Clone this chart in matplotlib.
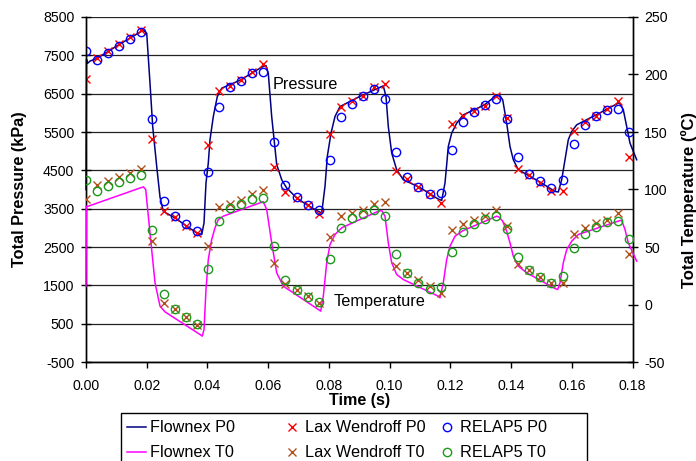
import numpy as np
import matplotlib
matplotlib.use("Agg")
import matplotlib.pyplot as plt
from matplotlib.lines import Line2D
from matplotlib.patches import Rectangle

plt.rcParams['font.family'] = ['Liberation Sans', 'DejaVu Sans']

# ---- Flownex lines ----
flownex_p_t = [0.0, 0.00016, 0.00049, 0.00132, 0.00362, 0.00725, 0.01087, 0.01449, 0.01812, 0.01910,
               0.02000, 0.02108, 0.02197, 0.02329, 0.02438, 0.02546, 0.02931, 0.03294, 0.03646, 0.03811,
               0.03887, 0.03952, 0.04028, 0.04084, 0.04193, 0.04325, 0.04470, 0.05072, 0.05820, 0.05929,
               0.06004, 0.06116, 0.06281, 0.06446, 0.06610, 0.06940, 0.07269, 0.07651, 0.07763, 0.07872,
               0.07948, 0.08070, 0.08201, 0.08366, 0.09025, 0.09739, 0.09792, 0.09881, 0.09957, 0.10069,
               0.10233, 0.10451, 0.11001, 0.11604, 0.11716, 0.11824, 0.11880, 0.11933, 0.12045, 0.12210,
               0.12427, 0.13109, 0.13471, 0.13613, 0.13725, 0.13856, 0.13965, 0.14074, 0.14239, 0.14920,
               0.15447, 0.15556, 0.15668, 0.15777, 0.15885, 0.15997, 0.16162, 0.16930, 0.17532, 0.17565,
               0.17697, 0.17809, 0.17917, 0.18138]
flownex_p = [4000, 7400, 7290, 7350, 7420, 7600, 7780, 7950, 8120, 8143,
             8075, 6773, 5643, 4602, 3800, 3430, 3258, 3057, 2867, 2823,
             3127, 4169, 4690, 5297, 5904, 6425, 6643, 6850, 7206, 7232,
             7034, 5904, 4650, 4255, 4039, 3779, 3604, 3430, 3388, 4081,
             4862, 5471, 5904, 6164, 6430, 6685, 6703, 6425, 5643, 4950,
             4516, 4255, 4050, 3750, 3716, 4169, 4650, 5122, 5471, 5732,
             5948, 6200, 6425, 6470, 6339, 5732, 5122, 4776, 4516, 4210,
             3950, 3935, 4255, 4776, 5297, 5513, 5687, 6000, 6253, 6268,
             6078, 5643, 5211, 4776]

flownex_tt = [0.0, 0.0001, 0.00023, 0.01887, 0.01966, 0.02108, 0.02273, 0.02438, 0.02602, 0.03755,
              0.03831, 0.03887, 0.03952, 0.04028, 0.04140, 0.04249, 0.04358, 0.04522, 0.05731, 0.05840,
              0.05952, 0.06116, 0.06281, 0.06499, 0.07651, 0.07730, 0.07816, 0.07928, 0.08037, 0.08201,
              0.08422, 0.09627, 0.09739, 0.09848, 0.09957, 0.10069, 0.10233, 0.10451, 0.11604, 0.11660,
              0.11769, 0.11880, 0.11989, 0.12154, 0.12400, 0.13527, 0.13613, 0.13725, 0.13856, 0.13965,
              0.14074, 0.14239, 0.14515, 0.15447, 0.15536, 0.15612, 0.15721, 0.15833, 0.15997, 0.16215,
              0.17588, 0.17644, 0.17753, 0.17862, 0.18138]
flownex_temp = [16, 85.5, 85, 102.3, 100, 62.3, 18.9, -1.4, -6.4, -26.1,
                -27.5, -21.7, 13, 39.1, 56.5, 66.7, 73.9, 76.8, 88.4, 89.3,
                82.6, 53.6, 27.6, 15.9, -4.3, -5.8, 7.2, 36.3, 52.2, 60.9,
                66.7, 81.1, 81.7, 76.8, 53.6, 36.3, 26.1, 21.7, 7.2, 5.8,
                18.9, 39.1, 50.7, 59.4, 64, 76.8, 75.9, 72.4, 63.7, 53.6,
                42, 33.3, 27.6, 13.9, 13, 18.9, 36.3, 47.8, 55, 60.9,
                73, 73, 65.2, 53.6, 37.7]

# ---- Marker series (sampled every 0.00365 s) ----
marker_t = np.arange(50) * 0.00365

lax_p = [6890, 7420, 7615, 7790, 7970, 8160, 5315, 3430, 3275, 3055,
         2865, 5150, 6580, 6690, 6850, 7070, 7270, 4585, 3940, 3780,
         3590, 3360, 5450, 6160, 6300, 6450, 6670, 6750, 4470, 4270,
         4055, 3870, 3650, 5700, 5910, 6050, 6180, 6450, 5870, 4530,
         4370, 4180, 3970, 3970, 5530, 5760, 5930, 6095, 6310, 4860]
relap_p = [7620, 7380, 7570, 7750, 7930, 8100, 5840, 3710, 3300, 3100,
           2910, 4450, 6160, 6670, 6840, 7050, 7070, 5250, 4125, 3800,
           3600, 3470, 4780, 5880, 6240, 6440, 6620, 6360, 4980, 4330,
           4055, 3880, 3910, 5020, 5750, 6030, 6210, 6360, 5840, 4860,
           4410, 4210, 4030, 4255, 5180, 5680, 5920, 6080, 6110, 5490]
lax_temp = [91.5, 103.5, 107.2, 110.7, 114.5, 118, 55, 1.4, -4.3, -11,
            -17.4, 51.3, 84.6, 87.8, 91.3, 96.2, 99.4, 36.3, 18, 13,
            7.2, 0.9, 58.9, 76.8, 79.7, 82.6, 87.8, 89, 33.9, 27,
            21.1, 15.9, 9.6, 65.2, 70.4, 73.9, 76.8, 82.6, 68.1, 34.8,
            29.8, 24.1, 18.9, 18.9, 60.9, 66.1, 71, 73.9, 79.7, 44.3]
relap_temp = [108.5, 98.5, 102.9, 106.4, 109.6, 112.4, 65.2, 9.3, -3.8, -10.7,
              -17.1, 31, 73, 83.5, 87.8, 91.9, 92.2, 51.3, 21.7, 12.2,
              6.7, 2.0, 39.7, 66.4, 74.8, 79.1, 82.6, 77.1, 44.3, 27,
              18.8, 13.6, 15.1, 45.8, 63.2, 70.2, 74.5, 76.8, 65.8, 41.5,
              29.8, 24.1, 18.9, 25.2, 49.3, 61.5, 67.2, 71.6, 72.2, 57.1]

p_ticks = list(range(-500, 8501, 1000))
t_ticks = list(range(-50, 251, 50))
x_ticks = [0.00, 0.02, 0.04, 0.06, 0.08, 0.10, 0.12, 0.14, 0.16, 0.18]
legend_labels = ['Flownex P0', 'Flownex T0', 'Lax Wendroff P0', 'Lax Wendroff T0', 'RELAP5 P0', 'RELAP5 T0']

W, H = 696, 461
fig = plt.figure(figsize=(W/100, H/100), dpi=100)
ax = fig.add_axes([86/W, 1-362/H, (632.5-86)/W, (362-17)/H])
ax2 = ax.twinx()

ax.set_xlim(0, 0.18)
ax.set_ylim(-500, 8500)
ax2.set_ylim(-50, 250)

for v in p_ticks:
    ax.axhline(v, color='#222222', lw=0.9, zorder=0)

c_fp = '#000080'
c_ft = '#FF00FF'
c_lp = '#FF0000'
c_lt = '#B0501A'
c_rp = '#0000FF'
c_rt = '#1A9A1A'

ax.plot(flownex_p_t, flownex_p, color=c_fp, lw=1.1, zorder=3, clip_on=False)
ax.plot(marker_t, lax_p, ls='none', marker='x', ms=6, mew=1.0, color=c_lp, zorder=4)
ax.plot(marker_t, relap_p, ls='none', marker='o', ms=6, mew=1.0, mfc='none', mec=c_rp, zorder=4)
ax2.plot(flownex_tt, flownex_temp, color=c_ft, lw=1.1, zorder=3, clip_on=False)
ax2.plot(marker_t, lax_temp, ls='none', marker='x', ms=6, mew=1.0, color=c_lt, zorder=4)
ax2.plot(marker_t, relap_temp, ls='none', marker='o', ms=6, mew=1.0, mfc='none', mec=c_rt, zorder=4)

ax.set_yticks(p_ticks)
ax.set_yticklabels([str(v) for v in p_ticks])
ax2.set_yticks(t_ticks)
ax2.set_yticklabels([str(v) for v in t_ticks])
ax.set_xticks(x_ticks)
ax.set_xticklabels([f"{v:.2f}" for v in x_ticks])

for a in (ax, ax2):
    a.spines['top'].set_visible(False)
    for s in a.spines.values():
        s.set_linewidth(1.0)
        s.set_color('black')
ax.tick_params(axis='y', direction='inout', length=7, width=1, labelsize=10.2, pad=5)
ax2.tick_params(axis='y', direction='inout', length=7, width=1, labelsize=10.2, pad=5)
ax.tick_params(axis='x', direction='out', length=4, width=1, labelsize=10.2, pad=8.5)

ax.set_xlabel('Time (s)', fontsize=11.6, fontweight='bold', labelpad=0)
ax.set_ylabel('Total Pressure (kPa)', fontsize=11.7, fontweight='bold')
ax2.set_ylabel('Total Temperature (ºC)', fontsize=12, fontweight='bold')
# anchor of left label = its right edge, anchor of right label = its left edge
ax.yaxis.set_label_coords((27-86)/546.5, (362-189)/345)
ax2.yaxis.set_label_coords((681-86)/546.5, (362-200)/345)

ax.text(0.0616, 6729, 'Pressure', fontsize=11.7, ha='left', va='center', zorder=5)
ax.text(0.0814, 1091, 'Temperature', fontsize=11.7, ha='left', va='center', zorder=5)

# ---- legend drawn in figure pixel space ----
def fx(px):
    return px / W

def fy(py):
    return 1 - py / H

frame = Rectangle((fx(121), fy(475)), fx(587) - fx(121), fy(413) - fy(475),
                  transform=fig.transFigure, fill=False, edgecolor='black', lw=1.0)
fig.add_artist(frame)

row_y = [427, 452]
for i, col in enumerate([c_fp, c_ft]):
    fig.add_artist(Line2D([fx(127), fx(146)], [fy(row_y[i]), fy(row_y[i])],
                          transform=fig.transFigure, color=col, lw=1.1))
    fig.text(fx(150), fy(row_y[i]), legend_labels[i], fontsize=11.7, ha='left', va='center')
for i, col in enumerate([c_lp, c_lt]):
    fig.add_artist(Line2D([fx(292)], [fy(row_y[i])], transform=fig.transFigure, ls='none',
                          marker='x', ms=6, mew=1.0, color=col))
    fig.text(fx(305), fy(row_y[i]), legend_labels[2 + i], fontsize=11.7, ha='left', va='center')
for i, col in enumerate([c_rp, c_rt]):
    fig.add_artist(Line2D([fx(447)], [fy(row_y[i])], transform=fig.transFigure, ls='none',
                          marker='o', ms=6, mew=1.0, mfc='none', mec=col))
    fig.text(fx(460), fy(row_y[i]), legend_labels[4 + i], fontsize=11.7, ha='left', va='center')

fig.savefig('out.png', dpi=100)
